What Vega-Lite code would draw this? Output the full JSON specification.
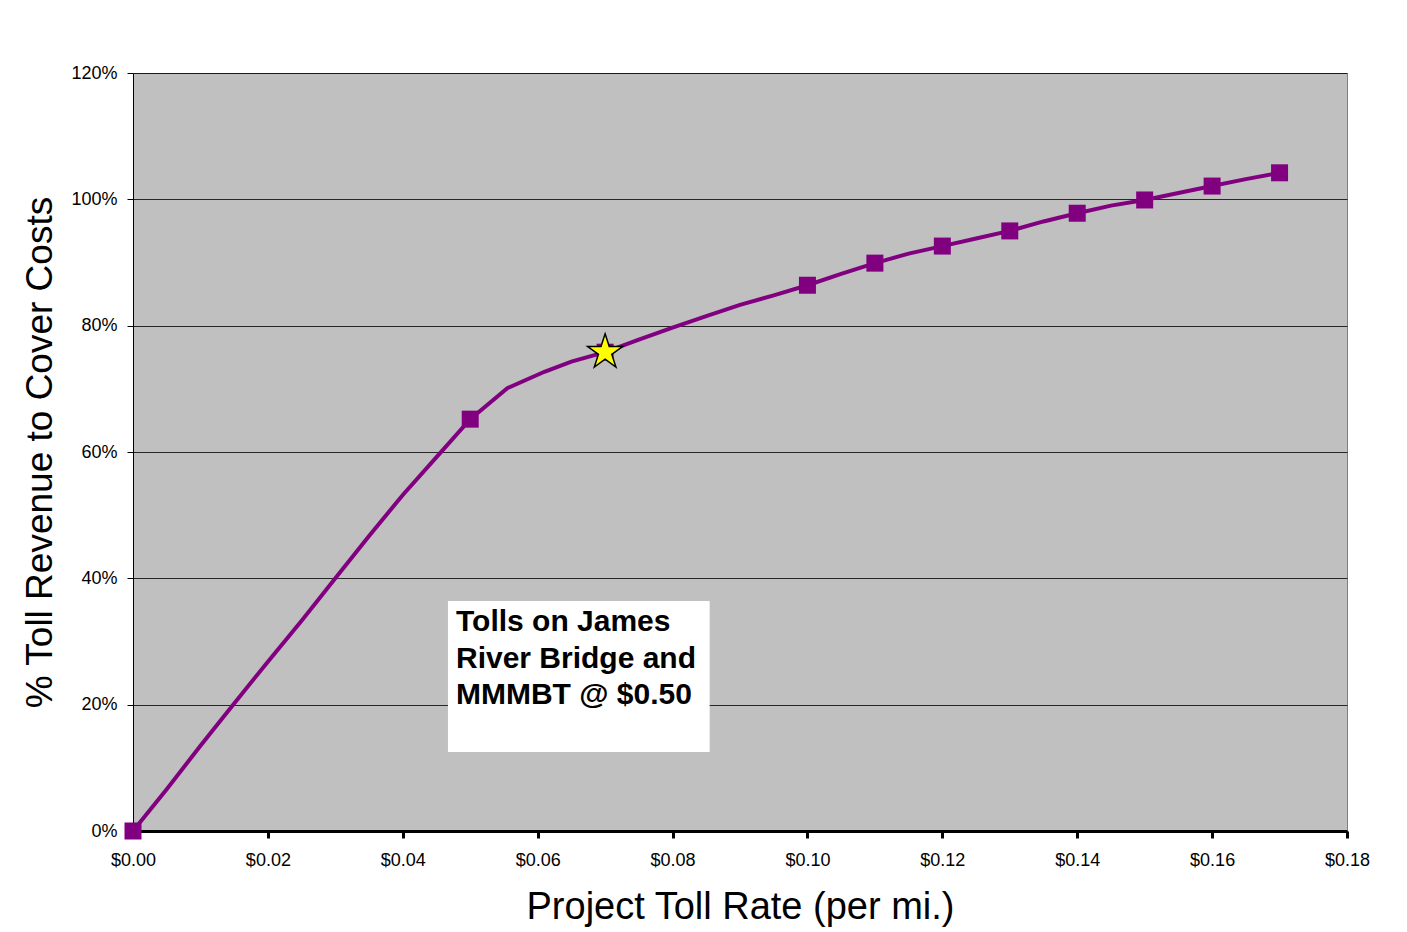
{
  "$schema": "https://vega.github.io/schema/vega-lite/v6.json",
  "width": 1214,
  "height": 758,
  "autosize": {"type": "none"},
  "padding": {"left": 133, "top": 73, "right": 60, "bottom": 101},
  "background": "white",
  "config": {
    "font": "Liberation Sans",
    "view": {"fill": "#C0C0C0", "stroke": "#808080", "strokeWidth": 1}
  },
  "datasets": {
    "curve": [
      {"rate": 0.0, "share": 0.0, "marker": true},
      {"rate": 0.005, "share": 0.066, "marker": false},
      {"rate": 0.01, "share": 0.135, "marker": false},
      {"rate": 0.015, "share": 0.202, "marker": false},
      {"rate": 0.02, "share": 0.268, "marker": false},
      {"rate": 0.025, "share": 0.333, "marker": false},
      {"rate": 0.03, "share": 0.400, "marker": false},
      {"rate": 0.035, "share": 0.467, "marker": false},
      {"rate": 0.04, "share": 0.532, "marker": false},
      {"rate": 0.045, "share": 0.592, "marker": false},
      {"rate": 0.05, "share": 0.652, "marker": true},
      {"rate": 0.0555, "share": 0.701, "marker": false},
      {"rate": 0.061, "share": 0.727, "marker": false},
      {"rate": 0.065, "share": 0.743, "marker": false},
      {"rate": 0.07, "share": 0.758, "marker": true},
      {"rate": 0.075, "share": 0.778, "marker": false},
      {"rate": 0.08, "share": 0.797, "marker": false},
      {"rate": 0.085, "share": 0.815, "marker": false},
      {"rate": 0.09, "share": 0.833, "marker": false},
      {"rate": 0.095, "share": 0.848, "marker": false},
      {"rate": 0.1, "share": 0.864, "marker": true},
      {"rate": 0.105, "share": 0.882, "marker": false},
      {"rate": 0.11, "share": 0.899, "marker": true},
      {"rate": 0.115, "share": 0.914, "marker": false},
      {"rate": 0.12, "share": 0.926, "marker": true},
      {"rate": 0.125, "share": 0.938, "marker": false},
      {"rate": 0.13, "share": 0.950, "marker": true},
      {"rate": 0.135, "share": 0.965, "marker": false},
      {"rate": 0.14, "share": 0.978, "marker": true},
      {"rate": 0.145, "share": 0.990, "marker": false},
      {"rate": 0.15, "share": 0.999, "marker": true},
      {"rate": 0.155, "share": 1.010, "marker": false},
      {"rate": 0.16, "share": 1.021, "marker": true},
      {"rate": 0.165, "share": 1.032, "marker": false},
      {"rate": 0.17, "share": 1.042, "marker": true}
    ],
    "star": [{"rate": 0.07, "share": 0.758}],
    "note": [{"x1": 0.0467, "x2": 0.0855, "y1": 0.364, "y2": 0.125, "label": "Tolls on James|River Bridge and|MMMBT  @ $0.50"}]
  },
  "layer": [
    {
      "data": {"name": "note"},
      "mark": {"type": "rect", "fill": "white"},
      "encoding": {
        "x": {
          "field": "x1", "type": "quantitative",
          "scale": {"domain": [0, 0.18], "nice": false, "zero": false},
          "axis": {
            "values": [0, 0.02, 0.04, 0.06, 0.08, 0.1, 0.12, 0.14, 0.16, 0.18],
            "format": "$.2f",
            "grid": false,
            "labelFlush": false,
            "domainColor": "black", "domainWidth": 3,
            "tickColor": "black", "tickWidth": 3, "tickSize": 7,
            "labelFontSize": 18, "labelColor": "black", "labelPadding": 13,
            "title": "Project Toll Rate (per mi.)",
            "titleFontSize": 38, "titleFontWeight": "normal", "titleColor": "black", "titlePadding": 19
          }
        },
        "x2": {"field": "x2"},
        "y": {
          "field": "y1", "type": "quantitative",
          "scale": {"domain": [0, 1.2], "nice": false},
          "axis": {
            "values": [0, 0.2, 0.4, 0.6, 0.8, 1.0, 1.2],
            "format": ".0%",
            "labelFlush": false,
            "grid": true, "gridColor": "black", "gridWidth": 1, "gridOpacity": 0.8,
            "domainColor": "black", "domainWidth": 1,
            "tickColor": "black", "tickWidth": 1, "tickSize": 6,
            "labelFontSize": 18, "labelColor": "black", "labelPadding": 10,
            "title": "% Toll Revenue to Cover Costs",
            "titleFontSize": 37, "titleFontWeight": "normal", "titleColor": "black", "titlePadding": 11
          }
        },
        "y2": {"field": "y2"}
      }
    },
    {
      "data": {"name": "note"},
      "mark": {"type": "text", "align": "left", "baseline": "top", "fontSize": 30, "fontWeight": "bold", "lineHeight": 36.5, "lineBreak": "|", "dx": 8, "dy": 6, "color": "black"},
      "encoding": {
        "x": {"field": "x1", "type": "quantitative"},
        "y": {"field": "y1", "type": "quantitative"},
        "text": {"field": "label"}
      }
    },
    {
      "data": {"name": "curve"},
      "mark": {"type": "line", "color": "#800080", "strokeWidth": 4},
      "encoding": {
        "x": {"field": "rate", "type": "quantitative"},
        "y": {"field": "share", "type": "quantitative"}
      }
    },
    {
      "data": {"name": "curve"},
      "transform": [{"filter": "datum.marker"}],
      "mark": {"type": "point", "shape": "square", "filled": true, "color": "#800080", "size": 289, "opacity": 1},
      "encoding": {
        "x": {"field": "rate", "type": "quantitative"},
        "y": {"field": "share", "type": "quantitative"}
      }
    },
    {
      "data": {"name": "star"},
      "mark": {"type": "point", "shape": "M0,-1L0.2245,-0.309L0.951,-0.309L0.363,0.118L0.588,0.809L0,0.382L-0.588,0.809L-0.363,0.118L-0.951,-0.309L-0.2245,-0.309Z", "filled": true, "fill": "#FFFF00", "stroke": "black", "strokeWidth": 1.5, "size": 1350, "opacity": 1},
      "encoding": {
        "x": {"field": "rate", "type": "quantitative"},
        "y": {"field": "share", "type": "quantitative"}
      }
    }
  ]
}
